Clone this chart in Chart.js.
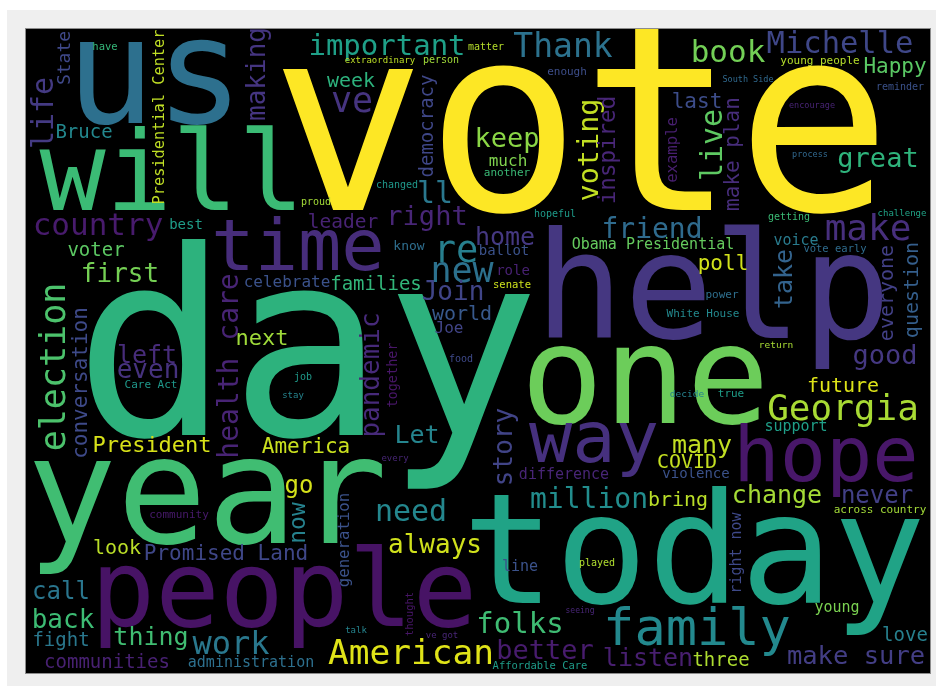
<!DOCTYPE html>
<html>
<head>
<meta charset="utf-8">
<script src="https://cdn.jsdelivr.net/npm/chart.js@4"></script>
<style>
	body { margin: 0; background: #ffffff; width: 936px; height: 686px; overflow: hidden; }
	#panel { position: absolute; left: 7px; top: 10px; width: 929px; height: 676px; background: #efefef; }
	#frame { position: absolute; left: 25px; top: 28px; width: 904px; height: 644px; border: 1px solid #8c8c8c; background: #000; }
	#cloud { display: block; filter: blur(0.6px); }
</style>
</head>
<body>
<div id="panel"></div>
<div id="frame"><canvas id="cloud" width="904" height="644"></canvas></div>
<script>
// words of the cloud
// horizontal words: x = centre, y = baseline; vertical words: x = baseline, y = centre
const words = [
	'vote', 'us', 'will', 'day', 'help', 'one', 'year', 'today', 'people', 'time',
	'hope', 'way', 'family', 'Georgia', 'American', 'important', 'Thank', 'book', 'Michelle', 'Happy',
	'great', 'make', 'make sure', 'never', 'change', 'bring', 'million', 'many', 'COVID', 'violence',
	'across country', 'young', 'love', 'listen', 'three', 'better', 'Affordable Care', 'folks', 'always', 'need',
	'line', 'played', 'difference', 'have', 'Bruce', 'best', 'country', 'voter', 'first', 'left',
	'even', 'Care Act', 'celebrate', 'next', 'job', 'stay', 'President', 'America', 'leader', 'right',
	'home', 're', 'new', 'Join', 'families', 'know', 'ballot', 'role', 'senate', 'Obama Presidential',
	'world', 'Joe', 'food', 'Let', 'matter', 'extraordinary', 'person', 'week', 'enough', 've',
	'keep', 'much', 'another', 'll', 'changed', 'proud', 'hopeful', 'friend', 'last', 'encourage',
	'South Side', 'young people', 'reminder', 'process', 'getting', 'challenge', 'voice', 'vote early', 'poll', 'power',
	'White House', 'return', 'good', 'future', 'true', 'decide', 'support', 'go', 'community', 'look',
	'Promised Land', 'call', 'back', 'fight', 'communities', 'thing', 'work', 'administration', 'every', 've got',
	'talk', 'seeing',
	'life', 'State', 'Presidential Center', 'making', 'democracy', 'voting', 'inspired', 'live', 'make plan', 'example',
	'take', 'everyone', 'question', 'election', 'conversation', 'health care', 'pandemic', 'together', 'story', 'right now',
	'now', 'generation', 'thought'
]

const wordX = [
	581, 155, 172, 307, 713, 645, 207, 694, 284, 298,
	826, 594, 697, 843, 411, 387, 563, 728, 840, 895,
	878, 868, 856, 877, 777, 678, 589, 702, 687, 696,
	880, 837, 905, 648, 721, 545, 540, 520, 435, 411,
	520, 597, 564, 105, 84, 186, 98, 96, 120, 147,
	148, 151, 287, 262, 303, 293, 152, 306, 343, 427,
	505, 456, 462, 453, 376, 409, 504, 513, 512, 653,
	462, 449, 461, 417, 486, 380, 441, 351, 567, 352,
	507, 508, 507, 435, 397, 316, 555, 652, 697, 812,
	748, 820, 900, 810, 789, 902, 796, 835, 723, 722,
	703, 776, 885, 843, 731, 687, 796, 299, 179, 117,
	226, 61, 63, 61, 107, 151, 231, 251, 395, 442,
	356, 580,
	53, 70, 164, 265, 433, 598, 615, 722, 739, 677,
	792, 893, 918, 65, 87, 238, 379, 397, 512, 741,
	305, 349, 413
]

const wordY = [
	210, 123, 210, 435, 338, 423, 543, 603, 626, 270,
	481, 462, 645, 420, 664, 55, 57, 62, 53, 73,
	167, 240, 664, 503, 503, 506, 508, 453, 468, 478,
	513, 612, 641, 666, 666, 659, 669, 633, 553, 521,
	571, 566, 479, 50, 138, 229, 235, 256, 282, 363,
	378, 388, 287, 345, 380, 398, 452, 453, 228, 225,
	245, 262, 282, 300, 290, 250, 255, 275, 288, 249,
	320, 333, 362, 443, 50, 63, 63, 87, 75, 112,
	147, 166, 176, 203, 188, 205, 217, 238, 108, 108,
	82, 64, 90, 157, 220, 216, 245, 252, 270, 298,
	317, 348, 364, 392, 397, 397, 431, 493, 518, 554,
	560, 599, 628, 646, 668, 645, 654, 667, 461, 638,
	633, 613,
	113, 58, 117, 74, 126, 150, 150, 145, 154, 150,
	279, 293, 290, 367, 383, 366, 375, 375, 447, 553,
	523, 540, 614
]

const wordSize = [
	258, 148, 110, 258, 148, 138, 150, 154, 107, 72,
	77, 72, 52, 36, 34.5, 29, 33, 31, 30.5, 21,
	27, 36, 25.5, 24, 25, 20, 28, 25, 20, 14,
	11, 15, 19, 25, 19, 27, 10.5, 29, 26, 30,
	15, 10, 15, 10.5, 19, 14, 31, 19, 26, 25,
	26, 11, 16, 22, 10, 9, 22, 21, 19.5, 27,
	25, 37, 35, 26, 19, 13, 14, 14, 10.5, 15,
	20, 16, 10, 25, 10, 9, 10, 20, 11, 35,
	27, 16, 11, 30, 10, 10, 10, 28, 21, 8.5,
	8.5, 11, 10, 8.5, 10, 9, 15, 10.5, 21, 11,
	11, 9.5, 27, 20, 11, 9.5, 15, 24, 11, 20,
	21, 24, 26, 19, 19, 25, 32, 15, 9, 9,
	9, 8,
	30, 18, 15.3, 26, 19, 28.5, 22.5, 30, 21, 15.6,
	25, 20, 20, 35, 21, 28, 26, 13.5, 26, 15,
	23, 15.7, 10.5
]

// 1 = written bottom to top
const wordVertical = [
	0, 0, 0, 0, 0, 0, 0, 0, 0, 0,
	0, 0, 0, 0, 0, 0, 0, 0, 0, 0,
	0, 0, 0, 0, 0, 0, 0, 0, 0, 0,
	0, 0, 0, 0, 0, 0, 0, 0, 0, 0,
	0, 0, 0, 0, 0, 0, 0, 0, 0, 0,
	0, 0, 0, 0, 0, 0, 0, 0, 0, 0,
	0, 0, 0, 0, 0, 0, 0, 0, 0, 0,
	0, 0, 0, 0, 0, 0, 0, 0, 0, 0,
	0, 0, 0, 0, 0, 0, 0, 0, 0, 0,
	0, 0, 0, 0, 0, 0, 0, 0, 0, 0,
	0, 0, 0, 0, 0, 0, 0, 0, 0, 0,
	0, 0, 0, 0, 0, 0, 0, 0, 0, 0,
	0, 0,
	1, 1, 1, 1, 1, 1, 1, 1, 1, 1,
	1, 1, 1, 1, 1, 1, 1, 1, 1, 1,
	1, 1, 1
]

// viridis shades
const wordColor = [
	'#fde725', '#2d708e', '#3bbb75', '#2db27d', '#453781', '#6ccd5a', '#40bd72', '#20a386', '#471365', '#472d7b',
	'#481769', '#46307e', '#23898e', '#a8db34', '#dfe318', '#1fa088', '#2c728e', '#73d056', '#3f4788', '#5ac864',
	'#2fb47c', '#472f7d', '#433e85', '#424086', '#a5db36', '#bade28', '#228d8d', '#c2df23', '#c5e021', '#3b528b',
	'#a2da37', '#7ad151', '#27808e', '#481f70', '#addc30', '#481c6e', '#1e9c89', '#3fbc73', '#d0e11c', '#24878e',
	'#3b528b', '#b0dd2f', '#482576', '#35b779', '#23888e', '#1f9e89', '#481b6d', '#5cc863', '#75d054', '#472c7a',
	'#46327e', '#1f988b', '#3b528b', '#9fda3a', '#1f9a8a', '#25848e', '#d8e219', '#cae11f', '#482374', '#482677',
	'#453882', '#277f8e', '#2c718e', '#404588', '#32b67a', '#2e6e8e', '#3b528b', '#482173', '#cde11d', '#65cb5e',
	'#38598c', '#414487', '#3e4989', '#25858e', '#b5de2b', '#bddf26', '#a0da39', '#2db27d', '#3d4e8a', '#463480',
	'#8bd646', '#7fd34e', '#3aba76', '#2a788e', '#1f988b', '#a2da37', '#1e9b8a', '#2f6b8e', '#3d4d8a', '#482475',
	'#30698e', '#b5de2b', '#3b528b', '#31688e', '#3bbb75', '#20a386', '#297b8e', '#2f6c8e', '#d2e21b', '#2e6f8e',
	'#23898e', '#a8db34', '#453882', '#dde318', '#1f9e89', '#26828e', '#1f9f88', '#d5e21a', '#481a6c', '#bade28',
	'#3f4788', '#2a768e', '#3dbc74', '#2a788e', '#482173', '#40bd72', '#2a788e', '#2d708e', '#482677', '#482677',
	'#25848e', '#482677',
	'#443a83', '#3f4889', '#c0df25', '#453581', '#3f4788', '#c2df23', '#482677', '#5ec962', '#472d7b', '#481f70',
	'#33638d', '#424086', '#355f8d', '#4cc26c', '#3e4a89', '#482475', '#472a7a', '#481668', '#414487', '#3e4989',
	'#26828e', '#3b528b', '#481668'
]

document.addEventListener('DOMContentLoaded', () => {
	// рисуем слова в точках, которые дали шкалы
	const wordLabels = {
		id: 'wordLabels',
		beforeDraw(chart) {
			const { ctx, chartArea } = chart
			ctx.save()
			ctx.fillStyle = '#000000'
			ctx.fillRect(chartArea.left, chartArea.top, chartArea.right - chartArea.left, chartArea.bottom - chartArea.top)
			ctx.restore()
		},
		afterDatasetsDraw(chart) {
			const ctx = chart.ctx
			const xScale = chart.scales.x
			const k = xScale.width / (xScale.max - xScale.min)
			const meta = chart.getDatasetMeta(0)
			meta.data.forEach((pt, i) => {
				ctx.save()
				ctx.translate(pt.x, pt.y)
				if (wordVertical[i]) ctx.rotate(-Math.PI / 2)
				ctx.font = `${wordSize[i] * k}px "DejaVu Sans Mono", monospace`
				ctx.fillStyle = wordColor[i]
				ctx.textAlign = 'center'
				ctx.textBaseline = 'alphabetic'
				ctx.fillText(words[i], 0, 0)
				ctx.restore()
			})
		}
	}

	new Chart(document.getElementById('cloud'), {
		type: 'scatter',
		data: {
			datasets: [{
				label: 'words',
				data: words.map((w, i) => ({ x: wordX[i], y: wordY[i] })),
				pointRadius: 0,
				pointHoverRadius: 0,
			}]
		},
		options: {
			responsive: false,
			animation: false,
			devicePixelRatio: 1,
			layout: { padding: 0 },
			plugins: {
				legend: { display: false },
				tooltip: { enabled: false },
			},
			scales: {
				x: { type: 'linear', min: 26, max: 930, display: false },
				y: { type: 'linear', min: 29, max: 673, reverse: true, display: false },
			},
		},
		plugins: [wordLabels],
	})
})
</script>
</body>
</html>
